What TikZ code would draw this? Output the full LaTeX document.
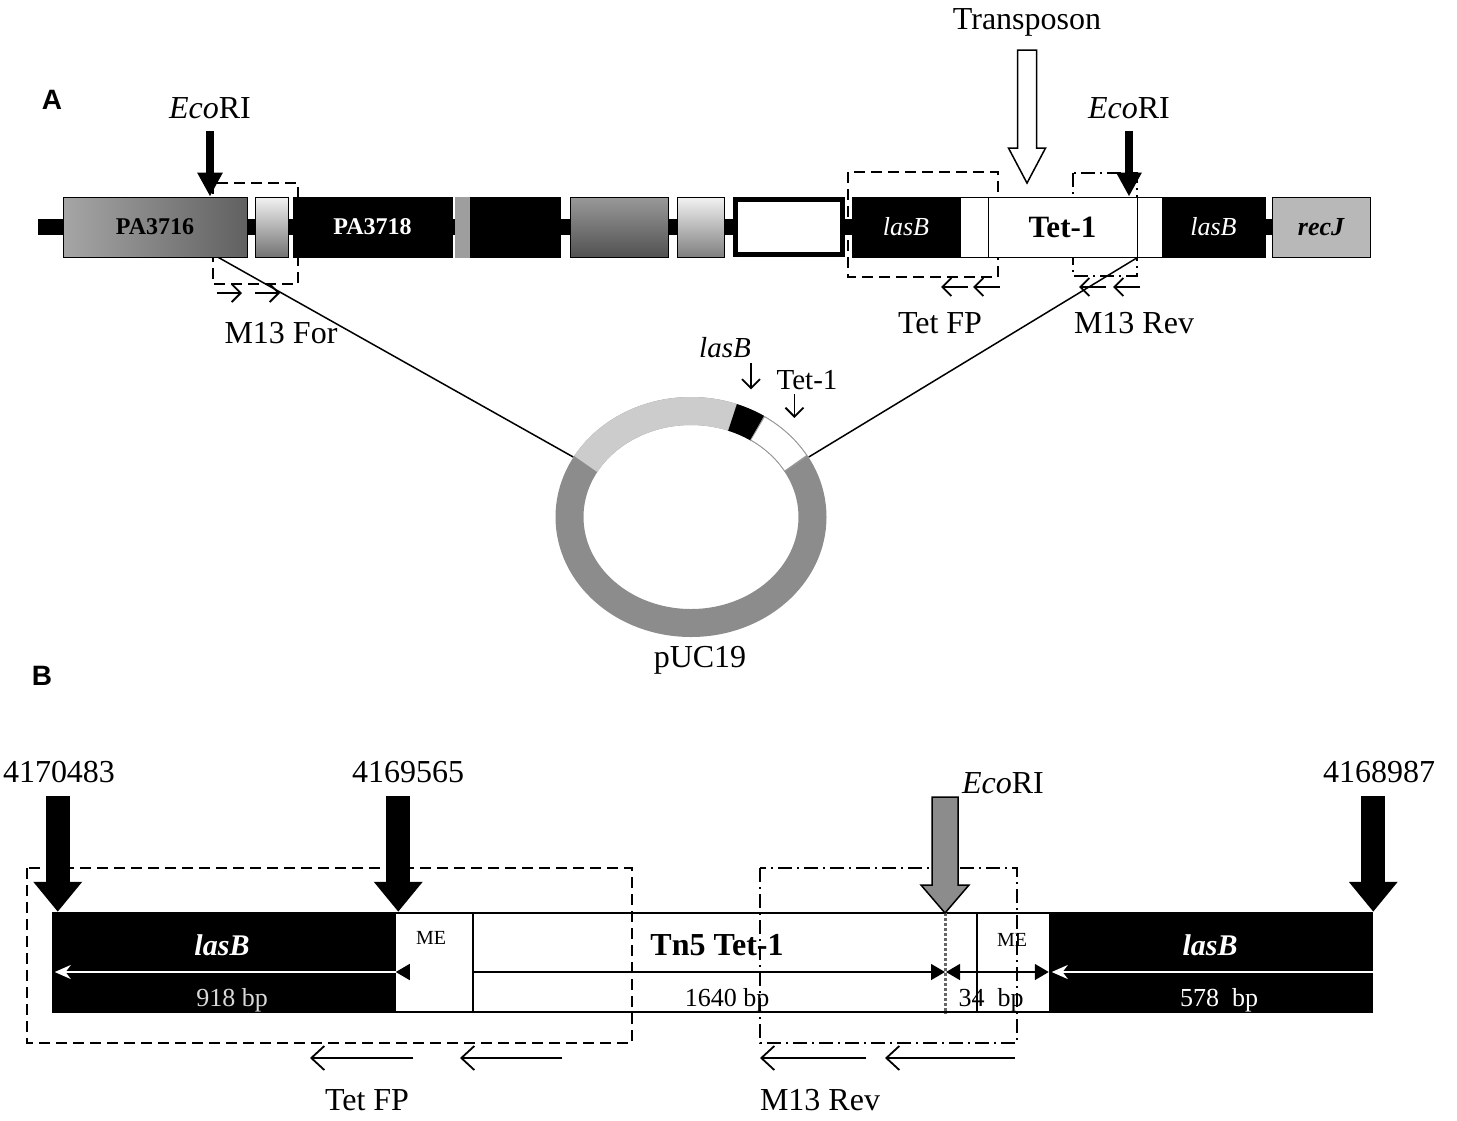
\documentclass[tikz,border=0pt]{standalone}
\usepackage{fontspec}
\setmainfont{Liberation Serif}
\newfontfamily\panelfont{Liberation Sans}
\usetikzlibrary{arrows.meta}

\tikzset{
  gene/.style={draw=black,line width=1pt,minimum height=60pt,inner sep=0pt},
  gtext/.style={font=\fontsize{24}{26}\selectfont\bfseries},
  lbl/.style={font=\fontsize{32}{34}\selectfont,inner sep=0pt},
  small/.style={font=\fontsize{29}{31}\selectfont,inner sep=0pt},
  bp/.style={font=\fontsize{26}{28}\selectfont,inner sep=0pt},
  metext/.style={font=\fontsize{20}{22}\selectfont,inner sep=0pt},
  panel/.style={font={\panelfont\bfseries\fontsize{28}{30}\selectfont},inner sep=0pt},
  seg/.style={draw=black,line width=2.5pt,minimum height=99pt,inner sep=0pt},
  cut/.style={line width=8pt,-{Triangle[length=24pt,width=24pt]}},
  bigcut/.style={line width=24pt,-{Triangle[length=30pt,width=47pt]}},
  primer/.style={line width=1.8pt,-{Straight Barb[length=9pt,width=18pt]}},
  longprimer/.style={line width=1.8pt,-{Straight Barb[length=13pt,width=24pt]}},
  boxed/.style={line width=1.8pt,dash pattern=on 11pt off 6pt},
  dashdot/.style={line width=1.8pt,dash pattern=on 14pt off 5pt on 2pt off 5pt},
  dimhead/.style={line width=1.5pt,-{Triangle[length=14pt,width=16pt]}},
  whitedim/.style={white,line width=2pt,-{Stealth[length=16pt,width=14pt]}}
}

\begin{document}
\begin{tikzpicture}[x=1pt,y=-1pt]
\useasboundingbox (0,0) rectangle (1457,1120);

% ---- A: genomic region
\node[panel] (pA) at (52,100) {A};
\draw[line width=16pt] (38,227) -- (1272,227);
\draw[boxed] (213,183) rectangle (298,284);
\draw[boxed] (848,172) rectangle (998,277);
\draw[dashdot] (1073,173) rectangle (1137,276);

\node[gene,minimum width=184pt,left color=black!35,right color=black!62,gtext] (pa16) at (155,227) {PA3716};
\node[gene,minimum width=33pt,top color=black!5,bottom color=black!55] (g2) at (271.5,227) {};
\node[gene,minimum width=159pt,fill=black,text=white,gtext] (pa18) at (372.5,227) {PA3718};
\node[gene,minimum width=105pt,fill=black] (g4) at (507.5,227) {};
\fill[black!38] (g4.north west) rectangle ([xshift=15pt]g4.south west);
\node[gene,minimum width=98pt,top color=black!40,bottom color=black!68] (g5) at (619,227) {};
\node[gene,minimum width=47pt,top color=black!5,bottom color=black!50] (g6) at (700.5,227) {};
\node[gene,minimum width=107pt,minimum height=55pt,line width=5pt,fill=white] (g7) at (789,227) {};
\node[gene,minimum width=108pt,fill=black,text=white,font=\fontsize{26}{28}\selectfont\itshape] (lasL) at (906,227) {lasB};
\node[gene,minimum width=28pt,fill=white] (me1) at (974,227) {};
\node[gene,minimum width=149pt,fill=white,font=\fontsize{31}{33}\selectfont\bfseries] (tet) at (1062.5,227) {Tet-1};
\node[gene,minimum width=25pt,fill=white] (me2) at (1149.5,227) {};
\node[gene,minimum width=103pt,fill=black,text=white,font=\fontsize{26}{28}\selectfont\itshape] (lasR) at (1213.5,227) {lasB};
\node[gene,minimum width=98pt,fill=black!28,font=\fontsize{26}{28}\selectfont\bfseries\itshape] (recj) at (1321,227) {recJ};

% restriction sites and insertion
\node[lbl] (ecoA) at (210,108) {\textit{Eco}RI};
\draw[cut] ([yshift=-12pt]ecoA.south) -- (ecoA.south |- pa16.north);
\node[lbl] (ecoA2) at (1129,108) {\textit{Eco}RI};
\draw[cut] ([yshift=-12pt]ecoA2.south) -- (ecoA2.south |- tet.north);
\node[lbl] (tn) at (1027,22) {Transposon};
\draw[line width=1.5pt,fill=white] ([yshift=-14pt]tn.south) ++(-9.5,0) -- ++(19,0) -- ++(0,98)
  -- ++(9,0) -- ++(-18.5,35) -- ++(-18.5,-35) -- ++(9,0) -- cycle;

% primers
\foreach \a in {217,255} \draw[primer] (\a,293) -- ++(25,0);
\foreach \a in {968,1000,1106,1140} \draw[primer] (\a,287) -- ++(-27,0);
\node[lbl] (m13f) at (281,333) {M13 For};
\node[lbl] (tfpA) at (940,323) {Tet FP};
\node[lbl] (m13rA) at (1134,323) {M13 Rev};

% pUC19 clone
\coordinate (ori) at (691,517);
\draw[line width=28pt,black!45] (ori) ellipse [x radius=121.5pt,y radius=106pt];
\draw[line width=28pt,black!20] ([shift={(150:121.5pt and 106pt)}]ori) arc[start angle=150,end angle=70,x radius=121.5pt,y radius=106pt];
\draw[line width=28pt,black] ([shift={(70:121.5pt and 106pt)}]ori) arc[start angle=70,end angle=57,x radius=121.5pt,y radius=106pt];
\draw[line width=28pt,black!40] ([shift={(57:121.5pt and 106pt)}]ori) arc[start angle=57,end angle=30,x radius=121.5pt,y radius=106pt];
\draw[line width=26pt,white] ([shift={(56.5:121.5pt and 106pt)}]ori) arc[start angle=56.5,end angle=30.8,x radius=121.5pt,y radius=106pt];
\coordinate (ringL) at ([shift={(150:136pt and 120pt)}]ori);
\coordinate (ringR) at ([shift={(30:136pt and 120pt)}]ori);
\draw[line width=1.5pt] ([xshift=-29pt]pa16.south east) -- (ringL);
\draw[line width=1.5pt] (tet.south east) -- (ringR);
\node[small,font=\fontsize{29}{31}\selectfont\itshape] (plas) at (725,348) {lasB};
\draw[primer] ([yshift=-5pt]plas.south east) -- ++(0,26);
\node[small] (ptet) at (807,380) {Tet-1};
\draw[primer] ([xshift=18pt,yshift=-4pt]ptet.south west) -- ++(0,24);
\node[lbl] (puc) at (700,660) {pUC19};

% ---- B: insertion detail
\node[panel] (pB) at (42,676) {B};
\node[seg,minimum width=342pt,fill=black] (b1) at (224,962.5) {};
\node[seg,minimum width=78pt,fill=white] (b2) at (434,962.5) {};
\node[seg,minimum width=504pt,fill=white] (b3) at (725,962.5) {};
\node[seg,minimum width=73pt,fill=white] (b4) at (1013.5,962.5) {};
\node[seg,minimum width=322pt,fill=black] (b5) at (1211,962.5) {};
\coordinate (dimy) at (0,972);
\coordinate (ecoB) at (945,913);

\draw[line width=3pt,dotted,black!60] (ecoB) -- (ecoB |- b3.south);
\draw[whitedim] ([xshift=10pt]b2.west |- dimy) -- ([xshift=3pt]b1.west |- dimy);
\draw[dimhead] ([xshift=14pt]b2.west |- dimy) -- ([xshift=2pt]b2.west |- dimy);
\draw[dimhead] (b3.west |- dimy) -- (ecoB |- dimy);
\draw[line width=1.5pt,{Triangle[length=14pt,width=16pt]}-{Triangle[length=14pt,width=16pt]}] ([xshift=1pt]ecoB |- dimy) -- (b5.west |- dimy);
\draw[whitedim] (b5.east |- dimy) -- ([xshift=3pt]b5.west |- dimy);

\node[font=\fontsize{30}{32}\selectfont\bfseries\itshape,text=white,inner sep=0pt] (lasB1) at (222,945) {lasB};
\node[font=\fontsize{30}{32}\selectfont\bfseries\itshape,text=white,inner sep=0pt] (lasB2) at (1210,945) {lasB};
\node[metext] (me3) at (431,938) {ME};
\node[metext] (me4) at (1012,940) {ME};
\node[font=\fontsize{32}{34}\selectfont\bfseries,inner sep=0pt] (tn5) at (717,945) {Tn5 Tet-1};
\node[bp,text=black!15] (bp918) at (232,1000) {918 bp};
\node[bp] (bp1640) at (727,1000) {1640 bp};
\node[bp] (bp34) at (991,1000) {34\ \ bp};
\node[bp,text=white] (bp578) at (1219,1000) {578\ \ bp};

\draw[boxed] (27,868) rectangle (632,1043);
\draw[dashdot] (760,868) rectangle (1017,1043);

% junction and EcoRI positions
\node[lbl] (n1) at (59,772) {4170483};
\node[lbl] (n2) at (408,772) {4169565};
\node[lbl] (n3) at (1379,772) {4168987};
\node[lbl] (ecoBl) at (1003,783) {\textit{Eco}RI};
\coordinate (t1) at ([xshift=6pt]b1.north west);
\coordinate (t2) at ([xshift=2pt]b1.north east);
\draw[bigcut] (t1) ++(0,-116) -- (t1);
\draw[bigcut] (t2) ++(0,-116) -- (t2);
\draw[bigcut] (b5.north east) ++(0,-116) -- (b5.north east);
\draw[line width=1.5pt,fill=black!45] (ecoB) -- ++(-24,-28) -- ++(11,0) -- ++(0,-88) -- ++(26,0)
  -- ++(0,88) -- ++(11,0) -- cycle;

% primers
\draw[longprimer] (413,1058) -- (310,1058);
\draw[longprimer] (562,1058) -- (460,1058);
\draw[longprimer] (866,1058) -- (760,1058);
\draw[longprimer] (1015,1058) -- (885,1058);
\node[lbl] (tfpB) at (367,1100) {Tet FP};
\node[lbl] (m13rB) at (820,1100) {M13 Rev};
\end{tikzpicture}
\end{document}
